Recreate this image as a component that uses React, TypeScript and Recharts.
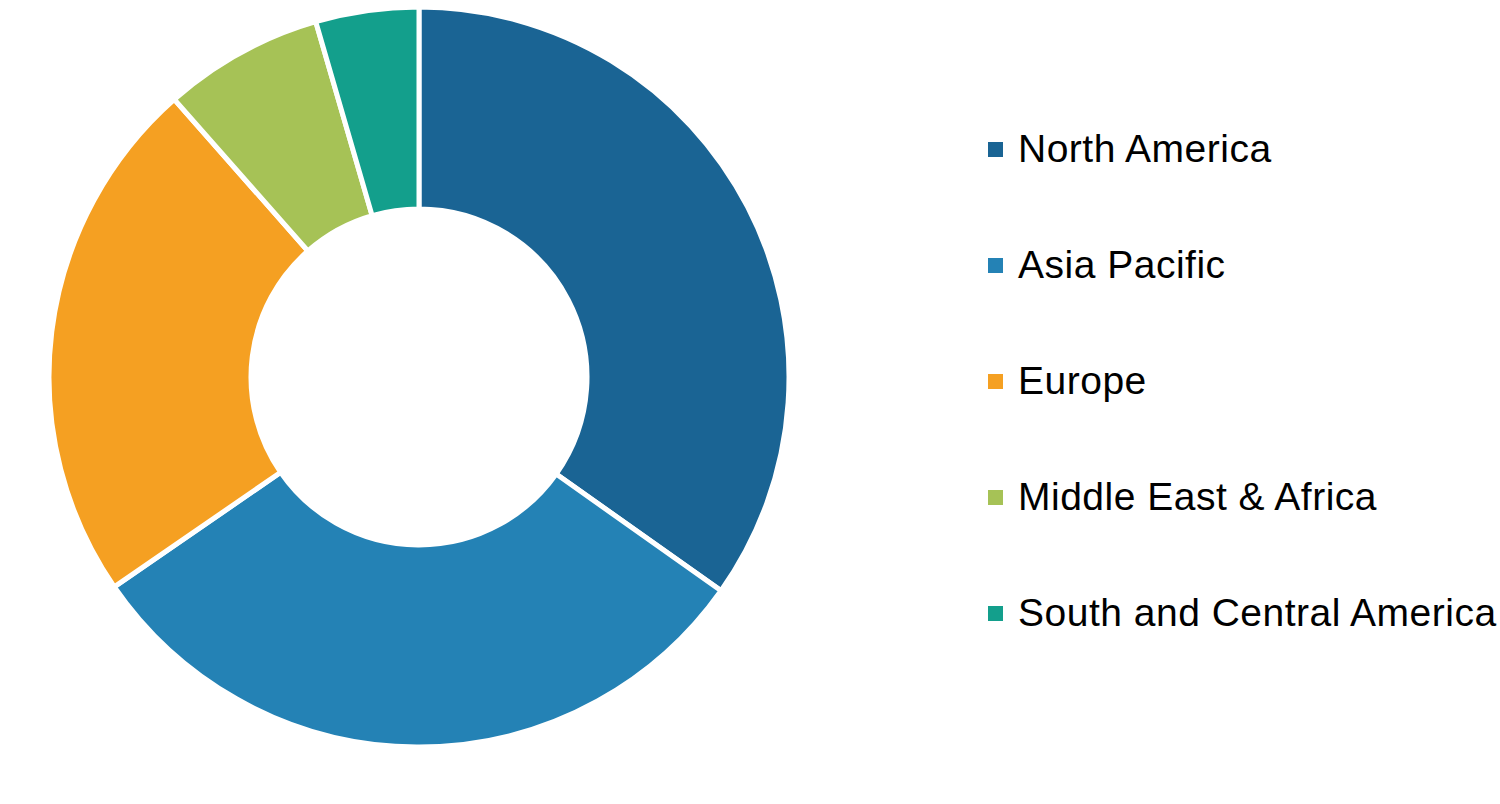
import { PieChart, Pie, Cell, Legend } from "recharts";

const regions = [
  "North America",
  "Asia Pacific",
  "Europe",
  "Middle East & Africa",
  "South and Central America",
];
const shares = [34.8, 30.6, 23.1, 7.0, 4.5];
const colors = ["#1A6494", "#2482B5", "#F5A022", "#A6C256", "#139F8C"];

const data = regions.map((name, i) => ({ name, value: shares[i] }));

const RegionLegend = () => (
  <div>
    {regions.map((name, i) => (
      <div
        key={name}
        style={{ height: 116, display: "flex", alignItems: "center" }}
      >
        <span
          style={{
            width: 15,
            height: 15,
            background: colors[i],
            marginRight: 15,
            flex: "none",
          }}
        />
        <span
          style={{
            fontFamily: "'Liberation Sans', Arial, sans-serif",
            fontSize: 39,
            letterSpacing: 0.5,
            color: "#000",
            whiteSpace: "nowrap",
          }}
        >
          {name}
        </span>
      </div>
    ))}
  </div>
);

export default function App() {
  return (
    <div style={{ position: "absolute", left: 0, top: 0, background: "#fff" }}>
      <PieChart
        width={1500}
        height={804}
        margin={{ top: 0, right: 0, bottom: 0, left: 0 }}
      >
        <Pie
          data={data}
          dataKey="value"
          nameKey="name"
          cx={419}
          cy={377}
          innerRadius={168}
          outerRadius={370}
          startAngle={90}
          endAngle={-270}
          stroke="#fff"
          strokeWidth={5}
          isAnimationActive={false}
        >
          {data.map((d, i) => (
            <Cell key={d.name} fill={colors[i]} />
          ))}
        </Pie>
        <Legend
          content={<RegionLegend />}
          wrapperStyle={{ left: 988, top: 91, width: 512 }}
        />
      </PieChart>
    </div>
  );
}
